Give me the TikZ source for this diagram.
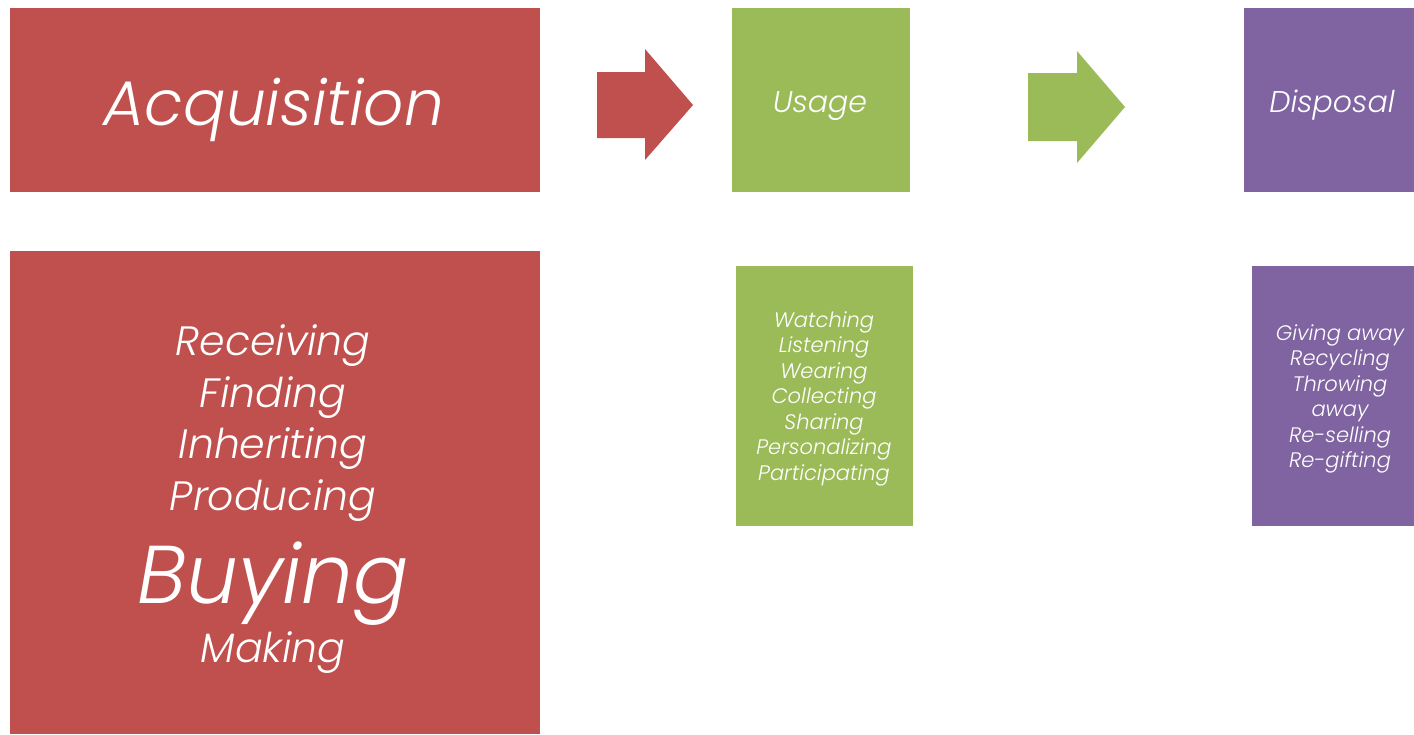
\documentclass[tikz,border=0pt]{standalone}
\usepackage{fontspec}
\newfontfamily\gfont{Poppins}[UprightFont={* Light Italic}]
\definecolor{acqred}{HTML}{C0504D}
\definecolor{usegreen}{HTML}{9BBB59}
\definecolor{dispurple}{HTML}{8064A2}
\begin{document}
\begin{tikzpicture}[x=1pt,y=-1pt,
  box/.style={inner sep=0pt,outer sep=0pt,draw=none,rectangle},
  label/.style={inner sep=0pt,anchor=base,text=white,font=\gfont},
]
\useasboundingbox (0,0) rectangle (1414,734);
% stage boxes
\node[box,fill=acqred,minimum width=530pt,minimum height=184pt]    (acq)  at (275,100) {};
\node[box,fill=usegreen,minimum width=178pt,minimum height=184pt]  (use)  at (821,100) {};
\node[box,fill=dispurple,minimum width=170pt,minimum height=184pt] (disp) at (1329,100) {};
% detail boxes
\node[box,fill=acqred,minimum width=530pt,minimum height=483pt]    (acqd)  at (275,492.5) {};
\node[box,fill=usegreen,minimum width=177pt,minimum height=260pt]  (used)  at (824.5,396) {};
\node[box,fill=dispurple,minimum width=162pt,minimum height=260pt] (dispd) at (1333,396) {};
% block arrows between stages
\fill[acqred] (597,72) -- (645,72) -- (645,49) -- (693,105) -- (645,160) -- (645,138) -- (597,138) -- cycle;
\fill[usegreen] (1028,73) -- (1077,73) -- (1077,51) -- (1125,107) -- (1077,163) -- (1077,141) -- (1028,141) -- cycle;
% stage titles
\node[label,font=\gfont\fontsize{63}{63}\selectfont] (tacq) at (274,125) {Acquisition};
\node[label,font=\gfont\fontsize{30}{30}\selectfont] (tuse) at (820,112) {Usage};
\node[label,font=\gfont\fontsize{30}{30}\selectfont] (tdisp) at (1332,112) {Disposal};
% acquisition list
\node[label,font=\gfont\fontsize{41}{41}\selectfont] (a1) at (273,355) {Receiving};
\node[label,font=\gfont\fontsize{41}{41}\selectfont] (a2) at (273,407) {Finding};
\node[label,font=\gfont\fontsize{41}{41}\selectfont] (a3) at (273,458) {Inheriting};
\node[label,font=\gfont\fontsize{41}{41}\selectfont] (a4) at (273,510) {Producing};
\node[label,font=\gfont\fontsize{82}{82}\selectfont] (a5) at (273,603) {Buying};
\node[label,font=\gfont\fontsize{41}{41}\selectfont] (a6) at (273,662) {Making};
% usage list
\foreach \t [count=\i] in {Watching,Listening,Wearing,Collecting,Sharing,Personalizing,Participating}
  \node[label,font=\gfont\fontsize{21}{21}\selectfont] (u\i) at (824,{327+25.5*(\i-1)}) {\t};
% disposal list
\foreach \t [count=\i] in {Giving away,Recycling,Throwing,away,Re-selling,Re-gifting}
  \node[label,font=\gfont\fontsize{21}{21}\selectfont] (d\i) at (1340,{340+25.5*(\i-1)}) {\t};
\end{tikzpicture}
\end{document}
